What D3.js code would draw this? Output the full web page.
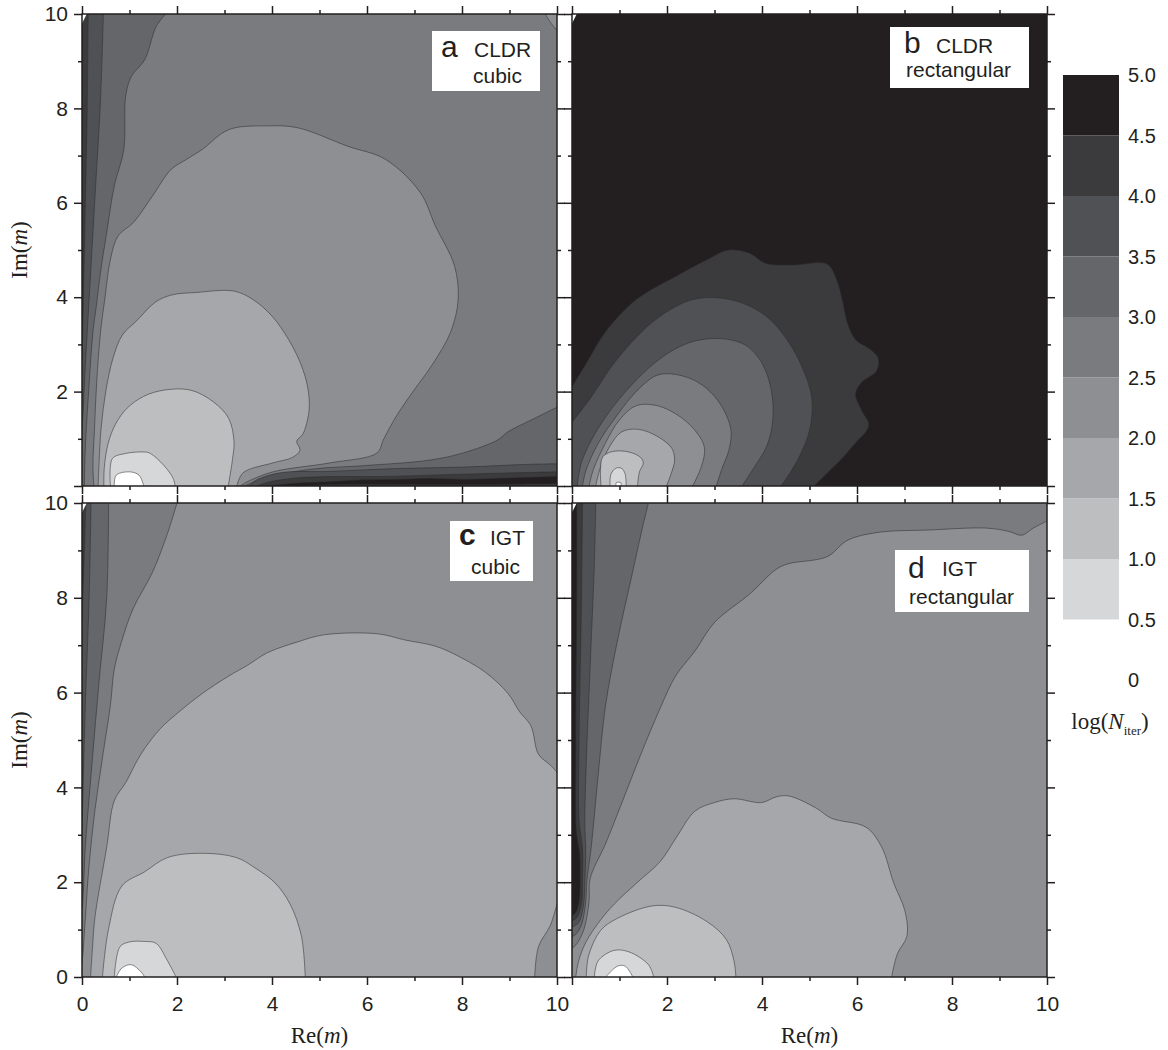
<!DOCTYPE html>
<html>
<head>
<meta charset="utf-8">
<script src="https://cdn.jsdelivr.net/npm/d3@7"></script>
<style>
body { margin: 0; background: #fff; }
svg text { font-family: "Liberation Sans", Arial, sans-serif; fill: #231f20; }
svg text.serif { font-family: "Liberation Serif", "Times New Roman", serif; }
</style>
</head>
<body>
<svg id="chart" width="1168" height="1050"></svg>
<script>
// colour bar: log(N_iter) levels
var barTicks = [0, 0.5, 1.0, 1.5, 2.0, 2.5, 3.0, 3.5, 4.0, 4.5, 5.0];
var barBands = [0.5, 1.0, 1.5, 2.0, 2.5, 3.0, 3.5, 4.0, 4.5];
var majorTicks = [0, 2, 4, 6, 8, 10];
var minorTicks = [1, 3, 5, 7, 9];

// each region: band = lower edge of its log(N_iter) band,
// lines = contour lines [Re(m), Im(m)], close = panel corners that close it
var regionsA = [
    { band: 3.0, lines: [[[1.76, 10], [1.56, 9.73], [1.32, 9.03], [1.04, 8.68], [0.92, 8.26], [0.88, 7.13], [0.68, 6.36], [0.52, 5.37], [0.39, 4.53], [0.3, 3.8], [0.23, 3.26], [0.13, 1.85], [0.07, 0.8], [0.05, 0]]], close: [[0, 0], [0, 10]] },
    { band: 3.5, lines: [[[0.45, 10], [0.39, 8.18], [0.27, 6.07], [0.15, 3.96], [0.07, 2.55], [0.02, 1.5], [0, 1.15]]], close: [[0, 10]] },
    { band: 4.0, lines: [[[0.13, 10], [0.11, 8], [0.07, 6], [0.03, 4], [0, 2.7]]], close: [[0, 10]] },
    { band: 2.0, lines: [[[9.75, 10], [9.88, 9.8], [10, 9.65]]], close: [[10, 10]] },
    { band: 3.0, lines: [[[3.42, 0], [3.6, 0.08], [3.81, 0.17], [4.86, 0.36], [5.92, 0.43], [7.33, 0.55], [8.02, 0.7], [8.74, 0.97], [8.97, 1.15], [9.5, 1.42], [10, 1.67]]], close: [[10, 0]] },
    { band: 3.5, lines: [[[3.52, 0], [3.68, 0.13], [4.17, 0.28], [5.22, 0.31], [6.63, 0.37], [8.02, 0.4], [9.43, 0.46], [10, 0.47]]], close: [[10, 0]] },
    { band: 4.0, lines: [[[3.68, 0], [3.96, 0.09], [4.52, 0.17], [5.22, 0.2], [6.27, 0.2], [7.33, 0.23], [8.73, 0.27], [10, 0.3]]], close: [[10, 0]] },
    { band: 4.5, lines: [[[3.9, 0], [4.17, 0.03], [4.52, 0.06], [5.22, 0.09], [5.92, 0.13], [6.62, 0.14], [7.33, 0.16], [8.03, 0.14], [8.73, 0.16], [10, 0.2]]], close: [[10, 0]] },
    { band: 4.0, lines: [[[4.6, 0], [5.2, 0.03], [6.5, 0.035], [8, 0.03], [10, 0.05]]], close: [[10, 0]] },
    { band: 2.0, lines: [[[0.25, 0], [0.23, 0.44], [0.26, 1.15], [0.31, 2.2], [0.39, 3.26], [0.48, 3.96], [0.6, 4.81], [0.76, 5.3], [1.08, 5.58], [1.48, 6.14], [1.88, 6.71], [2.2, 6.92], [2.53, 7.13], [3.09, 7.55], [3.9, 7.63], [4.54, 7.59], [5.59, 7.2], [6.39, 6.92], [7.12, 6.22], [7.44, 5.51], [7.84, 4.67], [7.92, 3.96], [7.76, 3.26], [7.36, 2.55], [6.96, 1.99], [6.63, 1.5], [6.47, 1.22], [6.34, 0.97], [6.21, 0.7], [5.22, 0.49], [4.02, 0.3], [3.5, 0.1], [3.33, 0]]], close: [] },
    { band: 1.5, lines: [[[0.34, 0], [0.36, 0.5], [0.4, 1.2], [0.5, 2.0], [0.65, 2.7], [0.85, 3.2], [1.15, 3.5], [1.55, 3.9], [1.9, 4.05], [2.4, 4.1], [3.2, 4.13], [3.6, 3.95], [4.0, 3.6], [4.35, 3.1], [4.6, 2.6], [4.75, 2.1], [4.78, 1.6], [4.65, 1.1], [4.52, 0.95], [4.59, 0.76], [4.44, 0.61], [4.02, 0.49], [3.39, 0.28], [3.26, 0]]], close: [] },
    { band: 1.0, lines: [[[0.46, 0], [0.47, 0.4], [0.55, 0.9], [0.7, 1.3], [0.95, 1.65], [1.3, 1.9], [1.72, 2.03], [2.29, 2.03], [2.77, 1.78], [3.09, 1.43], [3.2, 0.94], [3.17, 0.58], [3.08, 0]]], close: [] },
    { band: 0.5, lines: [[[0.6, 0], [0.64, 0.58], [0.92, 0.69], [1.32, 0.72], [1.44, 0.69], [1.72, 0.44], [1.92, 0.16], [1.96, 0]]], close: [] },
    { band: 0, lines: [[[0.68, 0], [0.72, 0.23], [1.0, 0.3], [1.2, 0.23], [1.3, 0]]], close: [] }
];

var regionsB = [
    { band: 4.0, lines: [[[0, 2.1], [0.3, 2.6], [0.7, 3.26], [1.35, 3.95], [2.2, 4.45], [2.85, 4.8], [3.3, 5.0], [3.74, 4.93], [4.07, 4.72], [4.64, 4.68], [5.37, 4.7], [5.58, 4.35], [5.7, 3.9], [5.8, 3.45], [5.97, 3.1], [6.27, 2.9], [6.45, 2.7], [6.4, 2.42], [6.1, 2.2], [5.97, 1.95], [6.1, 1.6], [6.25, 1.3], [6.15, 1.1], [6.0, 0.95], [5.7, 0.6], [5.35, 0.25], [5.1, 0]]], close: [[0, 0]] },
    { band: 3.5, lines: [[[0, 1.35], [0.38, 1.85], [0.96, 2.7], [1.78, 3.54], [2.59, 3.96], [3.41, 3.93], [4.07, 3.61], [4.56, 3.05], [4.89, 2.41], [5.05, 1.85], [5.01, 1.22], [4.8, 0.65], [4.56, 0.23], [4.4, 0]]], close: [[0, 0]] },
    { band: 3.0, lines: [[[0.11, 0], [0.2, 0.5], [0.55, 1.22], [1.12, 1.99], [1.86, 2.7], [2.51, 3.05], [3.17, 3.12], [3.66, 2.98], [3.99, 2.62], [4.19, 2.06], [4.23, 1.43], [4.11, 0.87], [3.82, 0.37], [3.58, 0]]], close: [] },
    { band: 2.5, lines: [[[0.22, 0], [0.3, 0.35], [0.55, 0.9], [0.95, 1.5], [1.4, 2.05], [1.8, 2.35], [2.2, 2.36], [2.65, 2.2], [3.0, 1.9], [3.25, 1.5], [3.35, 1.15], [3.3, 0.75], [3.15, 0.35], [3.04, 0]]], close: [] },
    { band: 2.0, lines: [[[0.36, 0], [0.45, 0.35], [0.7, 0.9], [1.0, 1.4], [1.35, 1.7], [1.8, 1.7], [2.3, 1.45], [2.65, 1.1], [2.79, 0.8], [2.72, 0.4], [2.54, 0]]], close: [] },
    { band: 1.5, lines: [[[0.5, 0], [0.6, 0.4], [0.8, 0.85], [1.05, 1.15], [1.4, 1.2], [1.8, 1.05], [2.1, 0.8], [2.16, 0.55], [2.1, 0.3], [1.99, 0]]], close: [] },
    { band: 1.0, lines: [[[0.61, 0], [0.6, 0.35], [0.65, 0.62], [0.85, 0.73], [1.2, 0.72], [1.45, 0.6], [1.5, 0.48], [1.42, 0.3], [1.38, 0]]], close: [] },
    { band: 0.5, lines: [[[0.8, 0], [0.82, 0.25], [0.93, 0.38], [1.05, 0.37], [1.12, 0.25], [1.14, 0]]], close: [] },
    { band: 0, lines: [[[0.93, 0], [0.93, 0.07], [1.03, 0.07], [1.03, 0]]], close: [] }
];

var regionsC = [
    { band: 2.5, lines: [[[2.0, 10], [1.8, 9.36], [1.48, 8.53], [1.08, 7.78], [0.84, 7.1], [0.68, 6.5], [0.6, 5.75], [0.43, 4.62], [0.27, 3.5], [0.15, 2.37], [0.07, 1.24], [0.02, 0.49], [0, 0.3]]], close: [[0, 10]] },
    { band: 3.0, lines: [[[0.56, 10], [0.52, 8.0], [0.35, 6.13], [0.19, 4.25], [0.07, 2.74], [0.02, 1.62], [0, 1.4]]], close: [[0, 10]] },
    { band: 3.5, lines: [[[0.19, 10], [0.15, 8.0], [0.07, 5.75], [0.03, 4.25], [0, 3.1]]], close: [[0, 10]] },
    { band: 4.0, lines: [[[0.08, 10], [0.05, 9], [0, 7.5]]], close: [[0, 10]] },
    { band: 1.5, lines: [[[0.18, 0], [0.22, 0.6], [0.27, 1.24], [0.52, 2.74], [0.68, 3.72], [0.92, 4.1], [1.24, 4.7], [1.64, 5.23], [2.05, 5.6], [2.53, 5.98], [3.09, 6.35], [3.49, 6.58], [3.9, 6.84], [4.54, 7.07], [5.1, 7.22], [6.23, 7.24], [6.8, 7.11], [7.44, 6.98], [7.92, 6.77], [8.49, 6.43], [8.97, 5.98], [9.21, 5.6], [9.45, 5.3], [9.61, 4.7], [9.86, 4.47], [10, 4.32]],
                         [[10, 1.54], [9.86, 1.09], [9.61, 0.64], [9.53, 0]]], close: [] },
    { band: 1.0, lines: [[[0.43, 0], [0.56, 1.02], [0.84, 1.92], [1.32, 2.22], [1.8, 2.52], [2.53, 2.61], [3.25, 2.52], [3.66, 2.29], [4.06, 1.99], [4.38, 1.54], [4.62, 0.86], [4.7, 0]]], close: [] },
    { band: 0.5, lines: [[[0.68, 0], [0.8, 0.64], [1.0, 0.74], [1.32, 0.75], [1.56, 0.71], [1.8, 0.34], [1.98, 0]]], close: [] },
    { band: 0, lines: [[[0.72, 0], [0.84, 0.19], [1.04, 0.26], [1.24, 0.11], [1.32, 0]]], close: [] }
];

var regionsD = [
    { band: 3.0, lines: [[[1.61, 10], [1.49, 9.51], [1.24, 8.38], [0.96, 7.11], [0.71, 5.75], [0.55, 4.25], [0.47, 3.4], [0.4, 2.7], [0.31, 2.0], [0.29, 1.6], [0.2, 1.1], [0.08, 0.9], [0, 0.85]]], close: [[0, 10]] },
    { band: 3.5, lines: [[[0.5, 10], [0.47, 8.7], [0.38, 6.5], [0.3, 4.5], [0.27, 3.3], [0.29, 2.6], [0.27, 2.0], [0.24, 1.5], [0.14, 1.15], [0, 1.05]]], close: [[0, 10]] },
    { band: 4.0, lines: [[[0.22, 10], [0.2, 8], [0.15, 5], [0.15, 3.3], [0.22, 2.7], [0.22, 2.0], [0.2, 1.55], [0.1, 1.25], [0, 1.18]]], close: [[0, 10]] },
    { band: 4.5, lines: [[[0.1, 10], [0.1, 8], [0.08, 5], [0.09, 3.1], [0.16, 2.6], [0.17, 2.0], [0.15, 1.6], [0.07, 1.35], [0, 1.3]]], close: [[0, 10]] },
    { band: 2.0, lines: [[[0, 0.6], [0.1, 0.7], [0.25, 1.0], [0.36, 1.6], [0.38, 2.07], [0.71, 2.82], [1.04, 3.65], [1.45, 4.7], [1.86, 5.68], [2.18, 6.35], [2.59, 6.88], [3.0, 7.48], [3.74, 8.08], [4.31, 8.61], [4.56, 8.72], [5.38, 8.87], [5.79, 9.21], [6.44, 9.38], [7.5, 9.43], [8.73, 9.47], [9.2, 9.4], [9.47, 9.32], [9.71, 9.47], [10, 9.62]]], close: [[10, 0], [0, 0]] },
    { band: 1.5, lines: [[[0.08, 0], [0.14, 0.34], [0.3, 0.75], [0.6, 1.2], [0.9, 1.55], [1.37, 1.99], [1.86, 2.44], [2.2, 2.95], [2.59, 3.5], [3.0, 3.68], [3.41, 3.76], [3.99, 3.68], [4.3, 3.8], [4.56, 3.82], [5.13, 3.57], [5.46, 3.35], [6.19, 3.16], [6.52, 2.74], [6.77, 1.99], [7.01, 1.39], [7.05, 0.86], [6.85, 0.49], [6.73, 0]]], close: [] },
    { band: 1.0, lines: [[[0.3, 0], [0.35, 0.45], [0.6, 0.98], [0.96, 1.24], [1.69, 1.5], [2.18, 1.47], [2.84, 1.17], [3.25, 0.79], [3.41, 0.34], [3.45, 0]]], close: [] },
    { band: 0.5, lines: [[[0.47, 0], [0.55, 0.34], [0.88, 0.56], [1.2, 0.53], [1.61, 0.26], [1.72, 0]]], close: [] },
    { band: 0, lines: [[[0.71, 0], [0.96, 0.23], [1.12, 0.23], [1.28, 0]]], close: [] }
];

// small white notch at the top-left corner of each plot
var cornerNotch = [[0, 10], [0.1, 10], [0, 9.8]];

var panels = [
    { key: "a", col: 0, row: 0, bg: 2.5, regions: regionsA, yLab: true, xLab: false, tag: ["a", "CLDR", "cubic"] },
    { key: "b", col: 1, row: 0, bg: 4.5, regions: regionsB, yLab: false, xLab: false, tag: ["b", "CLDR", "rectangular"] },
    { key: "c", col: 0, row: 1, bg: 2.0, regions: regionsC, yLab: true, xLab: true, tag: ["c", "IGT", "cubic"] },
    { key: "d", col: 1, row: 1, bg: 2.5, regions: regionsD, yLab: false, xLab: true, tag: ["d", "IGT", "rectangular"] }
];

var shade = d3.scaleThreshold()
    .domain([0.5, 1.0, 1.5, 2.0, 2.5, 3.0, 3.5, 4.0, 4.5])
    .range(["#ffffff", "#d6d7d9", "#bdbec0", "#a6a7aa", "#8e8f92", "#7a7b7e", "#656669", "#505154", "#3b3b3d", "#231f20"]);

var svg = d3.select("#chart");
var colX = [[82, 557], [572, 1047]];
var rowY = [[486, 14], [977, 503]];

function drawPanel(p) {
    var x = d3.scaleLinear().domain([0, 10]).range(colX[p.col]);
    var y = d3.scaleLinear().domain([0, 10]).range(rowY[p.row]);
    var x0 = colX[p.col][0], x1 = colX[p.col][1];
    var y0 = rowY[p.row][1], y1 = rowY[p.row][0];

    svg.append("clipPath").attr("id", "clip-" + p.key)
        .append("rect").attr("x", x0).attr("y", y0).attr("width", x1 - x0).attr("height", y1 - y0);

    var g = svg.append("g").attr("clip-path", "url(#clip-" + p.key + ")");
    g.append("rect").attr("x", x0).attr("y", y0).attr("width", x1 - x0).attr("height", y1 - y0)
        .attr("fill", shade(p.bg));

    var curve = d3.line()
        .x(function (d) { return x(d[0]); })
        .y(function (d) { return y(d[1]); })
        .curve(d3.curveCatmullRom.alpha(0.5));

    p.regions.forEach(function (r) {
        var d = r.lines.map(function (l, i) {
            var s = curve(l);
            return i ? "L" + s.slice(1) : s;
        }).join("");
        d += r.close.map(function (c) { return "L" + x(c[0]) + "," + y(c[1]); }).join("") + "Z";
        g.append("path").attr("d", d).attr("fill", shade(r.band));
        r.lines.forEach(function (l) {
            g.append("path").attr("d", curve(l))
                .attr("fill", "none")
                .attr("stroke", "#2b2b2b")
                .attr("stroke-opacity", 0.75)
                .attr("stroke-width", 0.7);
        });
    });

    g.append("path")
        .attr("d", d3.line().x(function (d) { return x(d[0]); }).y(function (d) { return y(d[1]); })(cornerNotch) + "Z")
        .attr("fill", "#fff");

    // frame
    svg.append("rect").attr("x", x0).attr("y", y0).attr("width", x1 - x0).attr("height", y1 - y0)
        .attr("fill", "none").attr("stroke", "#231f20").attr("stroke-width", 1.5);

    var sides = [
        { axis: d3.axisLeft(y), t: "translate(" + x0 + ",0)", lab: p.yLab },
        { axis: d3.axisRight(y), t: "translate(" + x1 + ",0)", lab: false },
        { axis: d3.axisTop(x), t: "translate(0," + y0 + ")", lab: false },
        { axis: d3.axisBottom(x), t: "translate(0," + y1 + ")", lab: p.xLab }
    ];
    sides.forEach(function (s, i) {
        var fmt = function (v) {
            if (!s.lab) return "";
            if (i === 0 && p.row === 0 && v === 0) return "";
            if (i === 3 && p.col === 1 && v === 0) return "";
            return v;
        };
        var isBottom = (i === 3);
        var major = svg.append("g").attr("transform", s.t)
            .call(s.axis.tickValues(majorTicks).tickSize(8).tickSizeOuter(0)
                .tickPadding(isBottom ? 11 : 6).tickFormat(fmt));
        major.select(".domain").remove();
        major.selectAll("line").attr("stroke", "#231f20").attr("stroke-width", 1.5);
        major.selectAll("text").attr("font-size", 21).attr("fill", "#231f20")
            .style("font-family", "'Liberation Sans', Arial, sans-serif");

        var minor = svg.append("g").attr("transform", s.t)
            .call(s.axis.tickValues(minorTicks).tickSize(4).tickSizeOuter(0).tickFormat(""));
        minor.select(".domain").remove();
        minor.selectAll("line").attr("stroke", "#231f20").attr("stroke-width", 1.5);
    });

    // label box
    var boxes = {
        a: { r: [432, 31, 108, 60], big: [441, 57], top: [474, 57], bot: [473, 83] },
        b: { r: [890, 27, 139, 61], big: [904, 53], top: [936, 53], bot: [906, 77] },
        c: { r: [450, 521, 83, 60], big: [459, 545], top: [490, 545], bot: [471, 574] },
        d: { r: [895, 550, 134, 62], big: [908, 578], top: [942, 576], bot: [909, 604] }
    };
    var b = boxes[p.key];
    svg.append("rect").attr("x", b.r[0]).attr("y", b.r[1]).attr("width", b.r[2]).attr("height", b.r[3])
        .attr("fill", "#fff");
    svg.append("text").attr("x", b.big[0]).attr("y", b.big[1]).attr("font-size", 30)
        .attr("font-weight", p.key === "c" ? "bold" : "normal").text(p.tag[0]);
    svg.append("text").attr("x", b.top[0]).attr("y", b.top[1]).attr("font-size", 21).text(p.tag[1]);
    svg.append("text").attr("x", b.bot[0]).attr("y", b.bot[1]).attr("font-size", 21).text(p.tag[2]);

    // axis titles
    if (p.yLab) {
        var ty = svg.append("text").attr("class", "serif")
            .attr("transform", "translate(19," + ((y0 + y1) / 2) + ") rotate(-90)")
            .attr("text-anchor", "middle").attr("dominant-baseline", "central")
            .attr("font-size", 23);
        ty.append("tspan").text("Im(");
        ty.append("tspan").attr("font-style", "italic").text("m");
        ty.append("tspan").text(")");
    }
    if (p.xLab) {
        var tx = svg.append("text").attr("class", "serif")
            .attr("x", (x0 + x1) / 2).attr("y", 1043)
            .attr("text-anchor", "middle").attr("font-size", 23);
        tx.append("tspan").text("Re(");
        tx.append("tspan").attr("font-style", "italic").text("m");
        tx.append("tspan").text(")");
    }
}

panels.forEach(drawPanel);

// colour bar
var cb = d3.scaleLinear().domain([0, 5]).range([680, 75]);
svg.selectAll(".cbar").data(barBands).enter().append("rect")
    .attr("class", "cbar")
    .attr("x", 1063)
    .attr("width", 56)
    .attr("y", function (d) { return cb(d + 0.5); })
    .attr("height", function (d) { return cb(d) - cb(d + 0.5); })
    .attr("fill", function (d) { return shade(d); });

svg.selectAll(".cbt").data(barTicks).enter().append("text")
    .attr("class", "cbt")
    .attr("x", 1128)
    .attr("y", function (d) { return cb(d); })
    .attr("dominant-baseline", "central")
    .attr("font-size", 20)
    .text(function (d) { return d === 0 ? "0" : d.toFixed(1); });

var lg = svg.append("text").attr("class", "serif")
    .attr("x", 1110).attr("y", 729).attr("text-anchor", "middle").attr("font-size", 23);
lg.append("tspan").text("log(");
lg.append("tspan").attr("font-style", "italic").text("N");
lg.append("tspan").attr("font-size", 13).attr("dy", 6).text("iter");
lg.append("tspan").attr("dy", -6).text(")");
</script>
</body>
</html>
